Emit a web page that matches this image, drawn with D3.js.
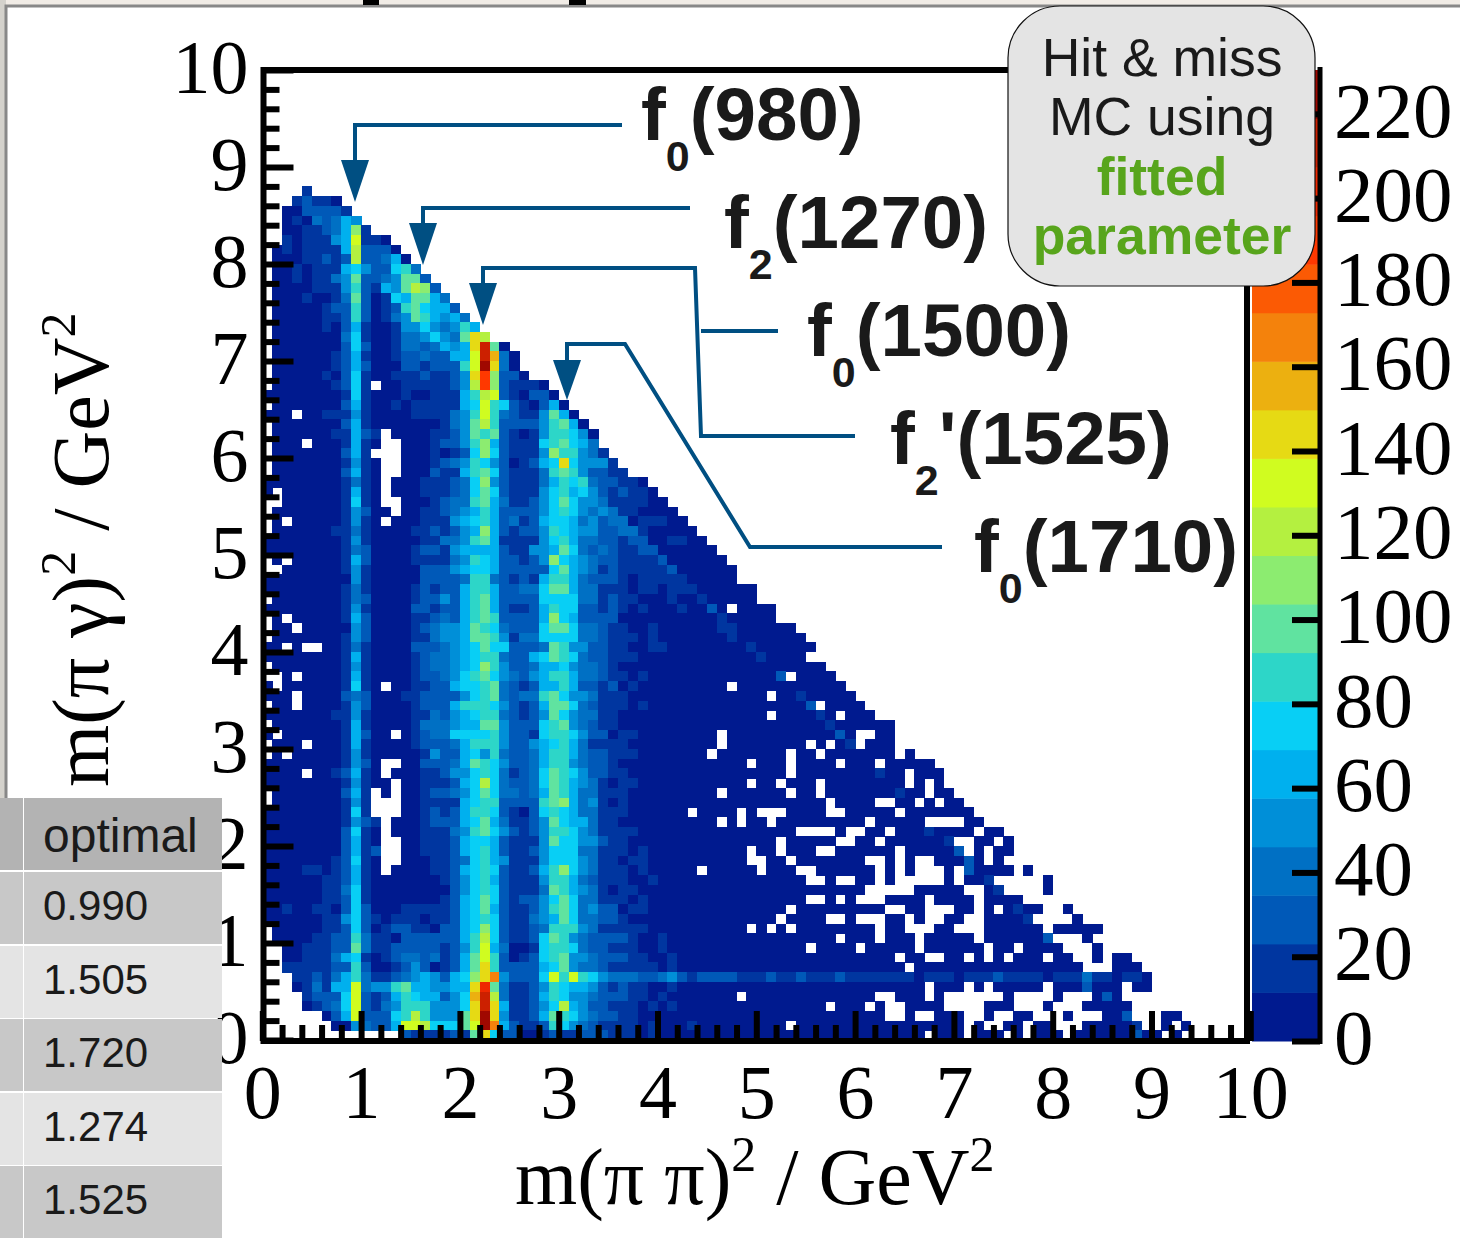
<!DOCTYPE html>
<html>
<head>
<meta charset="utf-8">
<script src="https://cdn.jsdelivr.net/npm/d3@7"></script>
<style>
  html, body { margin: 0; padding: 0; background: #fff; }
  svg { display: block; }
  .serif { font-family: "Liberation Serif", serif; fill: #000; }
  .sans { font-family: "Liberation Sans", sans-serif; fill: #1a1a1a; }
</style>
</head>
<body>
<div id="plot"></div>
<script>
// colour bands of the z axis, lowest first
var bandColors = ["#001a8f", "#0036a0", "#0059b8", "#0070c4", "#008fd8", "#00b0ee", "#08cff5", "#2dd6c8",
  "#60e3a0", "#8cec70", "#b4f040", "#d0fc20", "#e6da14", "#ecb010", "#f4820c", "#fb5a04",
  "#ff3800", "#ee2800", "#cc2000", "#a00800"];
var zMax = 230.4;

var xTicks = [0, 1, 2, 3, 4, 5, 6, 7, 8, 9, 10];
var yTicks = [0, 1, 2, 3, 4, 5, 6, 7, 8, 9, 10];
var zTicks = [0, 20, 40, 60, 80, 100, 120, 140, 160, 180, 200, 220];

var resonances = ["0|(980)", "2|(1270)", "0|(1500)", "2|'(1525)", "0|(1710)"];
var tableHead = "optimal";
var tableValues = ["0.990", "1.505", "1.720", "1.274", "1.525"];

// histogram bins. first string is row 87, last is row 0.
// each char is the colour band of a 0.1 x 0.1 bin (0-9, a-j), "." = empty bin
var firstRow = 87;
var binRows = [
  "....1",
  "...12110",
  "..0022221",
  "..01032354",
  "..00112359 1",
  "..1011145b 110",
  ".01011115a 2220",
  ".00011212a 22350",
  ".001011156 422673",
  ".001011348 2234882",
  ".000011147 21548a92",
  ".000100138 201658853",
  ".000001227 2012786552",
  ".000001127 2013487545 3",
  ".000001025 1001446434 75",
  ".000000036 1001334643 8ca",
  ".000000026 2001332354 5ci80",
  ".000000125 1001223225 5bid30",
  ".000000125 2000221222 7bjc30",
  ".000001026 1001112112 4cg9220",
  ".000000126 1.00111112 4ag921110",
  "0000000016 1000100111 57ab210220",
  ".000000025 1001011111 56b7621025 0",
  "000.001114 1000011113 47b7321148 50",
  ".000000025 1000000013 48a7222247 850",
  ".000000115 21.0000112 4878210147 7640",
  ".000.00015 10..000122 4795211167 8653",
  ".000000025 1...000101 2696211149 77431",
  ".000000014 10..000123 4764201256 c64441",
  ".000000025 10..000211 5786211137 8742211",
  "0000000013 10.0001112 3694211135 767322110",
  "0.00000015 10.0001112 3686211146 7564212110",
  "..00000016 10..000123 3785311246 8644311110 0",
  ".000000014 200.001123 4575222246 7643431100 00",
  ".0.0000014 10.0001114 5675231256 6534233011 100",
  ".000000113 1000011212 4595212247 6544223310 0000",
  "0000000014 1000001133 4785111146 7533221220 01100",
  "0000000013 2000012214 5555211445 8632321122 000000",
  ".0.0000015 2000011113 4765221249 6543221111 2000000",
  "..00000014 1000002224 5665222226 8543121111 12000000",
  "0000000004 1000002222 3773212157 7532221011 11100000",
  "0000000013 1000012122 5775223368 8533111011 0111000000",
  ".000000013 2000012242 5785222266 6633121100 0100100000",
  "0000000014 1000022122 5785211257 6622121010 0010020.00 00",
  ".0.0000015 2000011232 5787222259 6522220000 0000001000 00",
  ".00.000004 2000012344 5876322268 8633211001 0000001100 0000",
  ".000000014 2000011344 5887413366 6633211101 0000000100 00000",
  "00.0..0013 1000022234 5686622238 7442211001 1000000001 000000",
  "0000000015 1000012334 5677322568 7632211100 0000000000 10000",
  ".000000014 1000012334 5697422355 6433210000 0000000000 0000000",
  "..0.000015 1000012234 6786432457 7533211010 0000000000 002.0000",
  "0.00000016 10.0011225 6678321255 7522120100 0000000.00 000000000",
  "000.000023 2000112222 4678323378 6443111000 0000000000 0.00100000",
  ".00.000014 2000012225 7776421258 8632111010 0000000000 000002.000 0",
  "0000000114 1000011324 5677321248 6433110000 0000000000 0.000010.0 00",
  ".000000015 1000013334 5588422267 8432110000 0000000000 0000000100 0000",
  "0.00000015 200.012336 6667422167 7642201100 000000.000 0000000020 ..00",
  ".000.00015 1000012223 5777422456 7531111000 000000.000 00000.0.01 .000",
  ".0.0000014 1000001422 5647322357 7532211100 00000.0000 000.00.000 0000.0",
  "0000000014 20..002223 5876422357 7432210000 000000000. 000.0000.0 00.00000",
  "0000.00125 10.0001124 4676312368 7642211000 0000000000 000.000000 00100.000",
  "0000000014 100.001112 56a6322368 7543101100 000000000. 00.000.000 00000.0.0",
  ".000000025 1.0.001223 4686332358 7533111000 000000.000 000.00.000 0000100.00",
  ".000000014 1...001111 5677222278 9534101000 0000000000 0000000.00 00..00.0.0 0",
  "0000000016 1...001212 5776210267 6533111000 000.0000.0 ...0000..0 0000.00000 00",
  "0000000014 21.0001222 5685311248 6553110000 000000.0.0 0.00000000 0.00000... .00",
  "0000000026 10.0001113 4786421247 7643111100 0000000000 0000....0. .00.000100 00.00",
  "0000000025 10..001112 5665211148 6644211000 0000000000 00.00000.. 00.0000001 ..00.0",
  "0000000025 12..001112 5675211246 6633111010 000000000. 00.000..00 0000.00000 2.0.00",
  "0000000126 10..000112 3675411146 6643110110 000000000. .00.000000 0..0.0..00 020.0",
  "0000110125 10.0000112 5676211257 9643111010 0000.00000 .000..0000 00.0.0...0 .20000.0",
  "0000001125 1000000012 4675211147 7532111001 0000000000 00000..0.. 00.0.....0 .001.....0",
  "0000001136 1000000002 4676211138 7543101100 0000000000 0000000000 0.....0000 0..01....0",
  "0000001126 1000000012 5686212246 8633111010 0000000000 00000..0.0 ...0000.00 00.0000",
  "0010011026 2000111112 5685211247 8634220110 0000000000 000.000000 000..00... 00.0.0100. .0",
  "0000001146 2101110112 5676211345 8633221000 0000000000 00.0000..0 ...00.0..0 0..00001.. ..0",
  ".000001126 2012211022 5696211237 7743111110 000000000. 0.0.000000 00.00...00 ...000000. 00000",
  ".000011227 3110222222 57a6211268 7432222100 1000000000 00000000.0 00.000.000 00.0000002 ...0",
  "..00111228 3112222212 47b5300167 7632211100 1000000000 00000.0000 .00000.000 000.00.000 0...0",
  "..00111356 1012332312 58b7201267 8443222110 0100000000 0000000000 0000.00..0 0.0.0.000. 00..0.00",
  "..11111227 2001242012 58c7222256 8433211111 0100000000 0000000000 00000.0000 0000000000 000...000",
  "...1121357 3112345425 69ce42226b 7b76433322 3421222211 1211211121 1111110111 0111211110 1113110110",
  "...013155b 3447855445 5ch8311247 6554212110 0100000000 0000000000 0000000.00 0.0.00000. 0002000.00",
  "....12226b 2125765524 6dia311257 6443222110 10000000.0 0000000000 00..000.0. .....0.... 0...020",
  "....01236b 2134777444 6cic511246 a542211101 0100000000 0000000.00 0.0..0000. ...000...0 ...00000",
  "......025b 22267a7444 8cjc411258 7643221100 0000000000 0000000000 000..0..00 0..0..00.. .0...002...00",
  ".......004 3225bba666 8bje521127 6432111101 0001000000 000.000000 0000000000 0.0..00.00 ...000001. .0.0",
  ".......... ....211112 18c6220012 1122211101 0000000000 0000000000 0000000.00 0.000.0.00 0.00000020 0.0."
];

// one scale per axis, from the histogram frame and the colour bar in the picture
var x = d3.scaleLinear().domain([0, 10]).range([262.3, 1250.3]);
var y = d3.scaleLinear().domain([0, 10]).range([1040, 70]);
var zY = d3.scaleLinear().domain([0, zMax]).range([1041, 70]);
var color = d3.scaleQuantize().domain([0, zMax]).range(bandColors);

// turn the strings into bins
var bandWidth = zMax / bandColors.length;
var bins = [];
binRows.forEach(function(row, i) {
  row.replace(/ /g, "").split("").forEach(function(ch, c) {
    if (ch === ".") return;
    bins.push({ col: c, row: firstRow - i, z: (parseInt(ch, 20) + 0.5) * bandWidth });
  });
});

var svg = d3.select("#plot").append("svg")
    .attr("width", 1460)
    .attr("height", 1253);

// what is left of the slide behind the figure
svg.append("rect").attr("x", 0).attr("y", 0).attr("width", 1460).attr("height", 6).attr("fill", "#f1ece6");
svg.append("rect").attr("x", 0).attr("y", 0).attr("width", 6).attr("height", 800).attr("fill", "#d4d2cc");
svg.append("path").attr("d", "M6,800V6H1460").attr("fill", "none").attr("stroke", "#888").attr("stroke-width", 3);
svg.append("rect").attr("x", 363).attr("y", 0).attr("width", 16).attr("height", 5).attr("fill", "#000");
svg.append("rect").attr("x", 569).attr("y", 0).attr("width", 17).attr("height", 5).attr("fill", "#000");

// the bins
svg.append("g").selectAll("rect")
    .data(bins)
    .enter().append("rect")
    .attr("x", function(d) { return x(d.col / 10); })
    .attr("y", function(d) { return y((d.row + 1) / 10); })
    .attr("width", x(0.1) - x(0) + 0.4)
    .attr("height", y(0) - y(0.1) + 0.4)
    .attr("fill", function(d) { return color(d.z); })
    .attr("shape-rendering", "crispEdges");

// the colour bar
svg.append("g").selectAll("rect")
    .data(bandColors)
    .enter().append("rect")
    .attr("x", 1252)
    .attr("width", 67)
    .attr("y", function(d) { return zY(color.invertExtent(d)[1]); })
    .attr("height", function(d) { var e = color.invertExtent(d); return zY(e[0]) - zY(e[1]) + 0.5; })
    .attr("fill", function(d) { return d; });

// the frame
svg.append("rect")
    .attr("x", 263.5).attr("y", 70)
    .attr("width", 983.5).attr("height", 971)
    .attr("fill", "none").attr("stroke", "#000").attr("stroke-width", 6);
svg.append("path").attr("d", "M1320,67V1044").attr("stroke", "#000").attr("stroke-width", 5).attr("fill", "none");

function styleAxis(g) {
  g.select(".domain").remove();
  g.selectAll("line").attr("stroke", "#000").attr("stroke-width", 6);
  g.selectAll("text").attr("class", "serif").attr("font-size", 76).attr("fill", "#000");
}

var minor = d3.range(0, 10.01, 0.2).filter(function(d) { return Math.abs(d - Math.round(d)) > 0.01; });

// x axis, ticks point into the plot
svg.append("g").attr("transform", "translate(0,1041)")
    .call(d3.axisBottom(x).tickValues(minor).tickSizeInner(-16).tickSizeOuter(0).tickFormat(""))
    .call(styleAxis);
svg.append("g").attr("transform", "translate(0,1041)")
    .call(d3.axisBottom(x).tickValues(xTicks).tickSizeInner(-30).tickSizeOuter(0).tickPadding(23))
    .call(styleAxis);

// y axis
svg.append("g").attr("transform", "translate(263.5,0)")
    .call(d3.axisLeft(y).tickValues(minor).tickSizeInner(-16).tickSizeOuter(0).tickFormat(""))
    .call(styleAxis);
svg.append("g").attr("transform", "translate(263.5,0)")
    .call(d3.axisLeft(y).tickValues(yTicks).tickSizeInner(-30).tickSizeOuter(0).tickPadding(15))
    .call(styleAxis)
    .selectAll("text").attr("y", -2);

// z axis
svg.append("g").attr("transform", "translate(1320,0)")
    .call(d3.axisRight(zY).tickValues(zTicks).tickSizeInner(-28).tickSizeOuter(0).tickPadding(14))
    .call(styleAxis)
    .selectAll("text").attr("font-size", 79).attr("y", -3);

// axis titles
function axisTitle(sel, a) {
  sel.attr("class", "serif").attr("font-size", 80);
  sel.append("tspan").text("m(\u03c0 " + a + ")");
  sel.append("tspan").attr("font-size", 50).attr("dy", -33).text("2");
  sel.append("tspan").attr("dy", 33).text(" / GeV");
  sel.append("tspan").attr("font-size", 50).attr("dy", -33).text("2");
}
svg.append("text").attr("x", 515).attr("y", 1204).call(axisTitle, "\u03c0");
svg.append("text").attr("transform", "translate(108,787) rotate(-90)").call(axisTitle, "\u03b3");

// resonance arrows
var arrowColor = "#004f82";
var arrowLines = [
  "M622,125H355V165",
  "M690,208H423V228",
  "M778,331H701",
  "M855,436H701L695,268H483V288",
  "M942,547H750L625,344H567V365"
];
var arrowHeads = [[355, 160, 202], [423, 223, 265], [483, 283, 325], [567, 360, 400]];
svg.append("g").selectAll("path")
    .data(arrowLines)
    .enter().append("path")
    .attr("d", function(d) { return d; })
    .attr("fill", "none").attr("stroke", arrowColor).attr("stroke-width", 4);
svg.append("g").selectAll("path")
    .data(arrowHeads)
    .enter().append("path")
    .attr("d", function(d) { return "M" + (d[0] - 14) + "," + d[1] + "H" + (d[0] + 14) + "L" + d[0] + "," + d[2] + "Z"; })
    .attr("fill", arrowColor);

// resonance names
var nameSpots = [[641, 140], [724, 248], [807, 356], [890, 464], [974, 572]];
resonances.forEach(function(r, i) {
  var parts = r.split("|");
  var t = svg.append("text").attr("class", "sans").attr("x", nameSpots[i][0]).attr("y", nameSpots[i][1])
      .attr("font-weight", "bold").attr("font-size", 74.5);
  t.append("tspan").text("f");
  t.append("tspan").attr("font-size", 43).attr("dy", 31).text(parts[0]);
  t.append("tspan").attr("dy", -31).text(parts[1]);
});

// note box
svg.append("rect")
    .attr("x", 1008).attr("y", 6).attr("width", 307).attr("height", 280).attr("rx", 52).attr("ry", 52)
    .attr("fill", "#e4e4e4").attr("stroke", "#111").attr("stroke-width", 1.2);
var noteLines = [["Hit & miss", 76, "normal", "#1a1a1a"], ["MC using", 135, "normal", "#1a1a1a"],
  ["fitted", 195, "bold", "#58a51c"], ["parameter", 254, "bold", "#58a51c"]];
svg.append("g").selectAll("text")
    .data(noteLines)
    .enter().append("text")
    .attr("x", 1162).attr("y", function(d) { return d[1]; })
    .attr("text-anchor", "middle").attr("font-size", 53.5)
    .attr("font-family", "Liberation Sans, sans-serif")
    .attr("font-weight", function(d) { return d[2]; })
    .attr("fill", function(d) { return d[3]; })
    .text(function(d) { return d[0]; });

// table piece at the lower left
var rowTops = [798, 872, 946, 1019, 1093, 1166];
var rowFills = ["#b3b3b3", "#c8c8c8", "#e4e4e4", "#c8c8c8", "#e4e4e4", "#c8c8c8"];
var tableRows = svg.append("g").selectAll("g")
    .data([tableHead].concat(tableValues))
    .enter().append("g")
    .attr("transform", function(d, i) { return "translate(0," + rowTops[i] + ")"; });
tableRows.append("rect").attr("width", 23).attr("height", 72).attr("fill", function(d, i) { return rowFills[i]; });
tableRows.append("rect").attr("x", 24).attr("width", 198).attr("height", 72).attr("fill", function(d, i) { return rowFills[i]; });
tableRows.append("text")
    .attr("class", "sans").attr("x", 43)
    .attr("y", function(d, i) { return i ? 48 : 54; })
    .attr("font-size", function(d, i) { return i ? 42 : 48; })
    .text(function(d) { return d; });
</script>
</body>
</html>
